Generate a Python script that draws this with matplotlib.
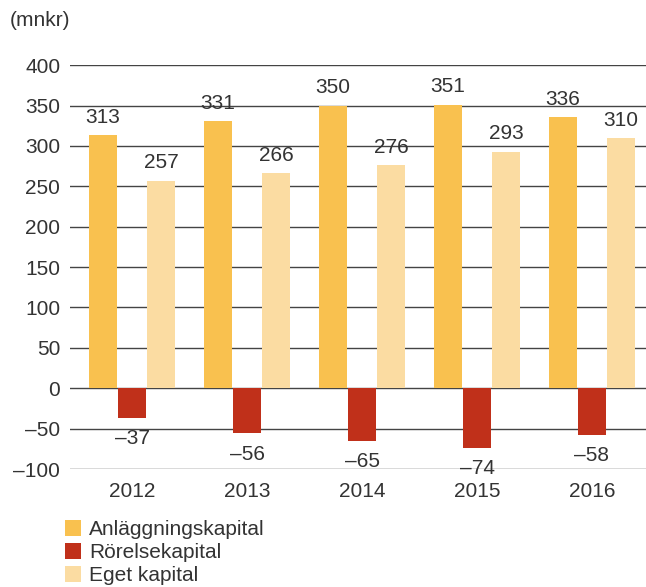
"""Anläggningskapital, rörelsekapital och eget kapital 2012–2016."""
import matplotlib

matplotlib.use("Agg")
import matplotlib.pyplot as plt  # noqa: E402
import numpy as np  # noqa: E402

years = ["2012", "2013", "2014", "2015", "2016"]
anlaggning = [313, 331, 350, 351, 336]
rorelse = [-37, -56, -65, -74, -58]
eget = [257, 266, 276, 293, 310]

series = [
    ("Anläggningskapital", anlaggning, "#F9C14F"),
    ("Rörelsekapital", rorelse, "#C0301A"),
    ("Eget kapital", eget, "#FBDCA2"),
]

plt.rcParams["font.family"] = ["Liberation Sans", "DejaVu Sans"]
text_color = "#333333"
fs = 15

fig = plt.figure(figsize=(6.46, 5.87), dpi=100)
ax = fig.add_axes([0.1084, 0.201, 0.8916, 0.688])

x = np.arange(len(years))
width = 0.243
offsets = [-0.252, 0, 0.252]

for (name, vals, color), off in zip(series, offsets):
    bars = ax.bar(x + off, vals, width, color=color, label=name, zorder=3)
    for b, v in zip(bars, vals):
        lbl = f"\u2013{abs(v)}" if v < 0 else str(v)
        ax.annotate(lbl, (b.get_x() + b.get_width() / 2, v),
                    xytext=(0, 6 if v >= 0 else -8), textcoords="offset points",
                    ha="center", va="bottom" if v >= 0 else "top",
                    fontsize=fs, color=text_color)

ax.set_ylim(-100, 400)
ax.set_xlim(-0.54, 4.47)
ax.set_yticks(range(-100, 401, 50))
ax.set_yticklabels([f"\u2013{abs(t)}" if t < 0 else str(t) for t in range(-100, 401, 50)])
ax.set_xticks(x)
ax.set_xticklabels(years)
ax.tick_params(length=0, labelsize=fs, labelcolor=text_color)
ax.tick_params(axis="y", pad=7)
ax.tick_params(axis="x", pad=9)
ax.grid(axis="y", color="#444444", linewidth=1, zorder=0)
for s in ax.spines.values():
    s.set_visible(False)

fig.text(0.015, 0.965, "(mnkr)", fontsize=fs, color=text_color, va="center")

fig.legend(loc="upper left", bbox_to_anchor=(0.1, 0.114), frameon=False,
           fontsize=fs, labelcolor=text_color, handlelength=0.77, handleheight=0.77,
           handletextpad=0.4, labelspacing=0.2, borderpad=0, borderaxespad=0)

fig.savefig("out.png", dpi=100)
plt.close(fig)
